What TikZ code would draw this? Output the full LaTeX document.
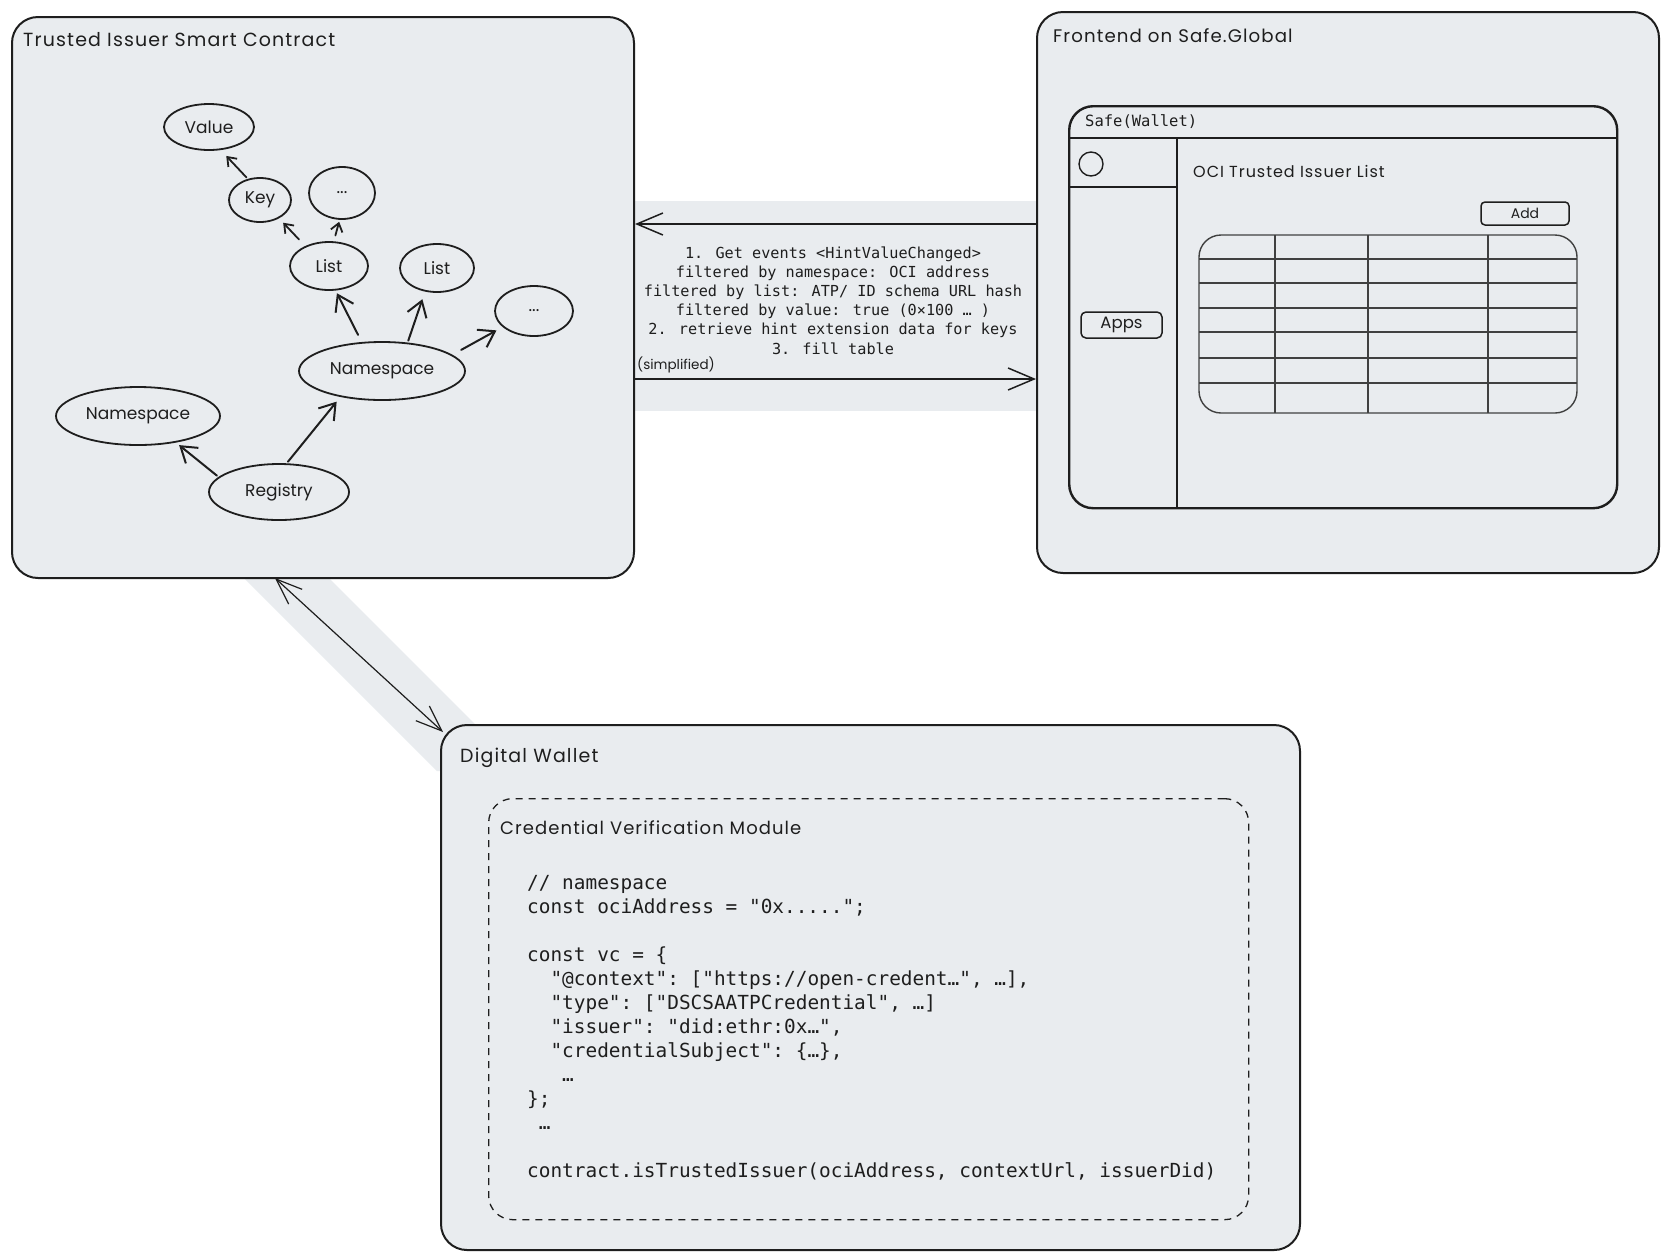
\documentclass[tikz,border=0pt]{standalone}
\usepackage{fontspec}
\setmainfont{Poppins}
\newfontfamily\handfont{Poppins}[LetterSpace=6]
\newfontfamily\codefont{DejaVu Sans Mono}
\usetikzlibrary{shapes.geometric,arrows.meta}
\definecolor{ink}{HTML}{1E1E1E}
\definecolor{boxfill}{HTML}{E9ECEF}
\begin{document}
\begin{tikzpicture}[x=1pt,y=-1pt,
  panel/.style={draw=ink, line width=2pt, fill=boxfill, rounded corners=26pt, inner sep=0pt, anchor=north west},
  hand/.style={text=ink, font=\handfont\fontsize{19}{22}\selectfont, inner sep=0pt, anchor=west},
  oval/.style={ellipse, draw=ink, line width=1.8pt, inner sep=0pt, text=ink, font=\fontsize{17}{20}\selectfont},
  sarr/.style={draw=ink, line width=1.8pt, line cap=round, -{Straight Barb[length=8pt,width=12pt]}},
  barr/.style={draw=ink, line width=2pt, line cap=round, -{Straight Barb[length=15pt,width=20pt]}},
  harr/.style={draw=ink, line width=1.5pt, -{Straight Barb[length=26pt,width=22pt]}},
  tline/.style={draw=ink!85, line width=1.4pt},
  wline/.style={draw=ink, line width=2.4pt}
]
\useasboundingbox (0,0) rectangle (1669,1259);
\fill[white] (0,0) rectangle (1669,1259);

% background bands
\fill[boxfill] (633,201) rectangle (1036,411);
\fill[boxfill] (242,576) -- (327,576) -- (522,771) -- (437,771) -- cycle;

% panels
\node[panel, minimum width=622pt, minimum height=561pt] (tic) at (11,16) {};
\node[panel, minimum width=622pt, minimum height=561pt] (fe) at (1036,11) {};
\node[panel, minimum width=859pt, minimum height=525pt] (dw) at (440,724) {};

% titles
\node[hand] (tictitle) at (23,40) {Trusted Issuer Smart Contract};
\node[hand, font=\handfont\fontsize{18.2}{22}\selectfont] (fetitle) at (1053,36) {Frontend on Safe.Global};
\node[hand] (dwtitle) at (460,758) {Digital Wallet};

% ---- graph in trusted issuer box
\node[oval, minimum width=90pt, minimum height=46pt] (val) at (209,127) {Value};
\node[oval, minimum width=62pt, minimum height=44pt] (key) at (260,200) {Key};
\node[oval, minimum width=66pt, minimum height=52pt] (d1) at (342,193) {...};
\node[oval, minimum width=78pt, minimum height=48pt] (l1) at (329,266) {List};
\node[oval, minimum width=74pt, minimum height=48pt] (l2) at (437,268) {List};
\node[oval, minimum width=78pt, minimum height=50pt] (d2) at (534,311) {...};
\node[oval, minimum width=166pt, minimum height=58pt] (nsR) at (382,371) {Namespace};
\node[oval, minimum width=164pt, minimum height=58pt] (nsL) at (138,416) {Namespace};
\node[oval, minimum width=140pt, minimum height=56pt] (reg) at (279,492) {Registry};

\draw[barr, shorten <=2pt, shorten >=4pt] (reg.166) -- (nsL.-35);
\draw[barr, shorten <=2pt, shorten >=6pt] (reg.75) -- (nsR.212);
\draw[barr, shorten <=8pt, shorten >=3pt] (nsR.125) -- (l1.285);
\draw[barr, shorten <=2pt, shorten >=8pt] (nsR.48) -- (l2.243);
\draw[barr, shorten <=10pt, shorten >=7pt] (nsR.13) -- (d2.207);
\draw[sarr, shorten <=9pt, shorten >=6pt] (l1.140) -- (key.316);
\draw[sarr, shorten <=6pt, shorten >=2pt] (l1.79) -- (d1.265);
\draw[sarr, shorten <=2pt, shorten >=8pt] (key.120) -- (val.297);

% ---- connectors between panels
\draw[harr] (fe.west |- 0,224) -- (tic.east |- 0,224);
\draw[harr] (tic.east |- 0,379) -- (fe.west |- 0,379);
\node[text=ink, font=\codefont\fontsize{15.2}{19.2}\selectfont, align=center, anchor=base, inner sep=0pt] (steps) at (833,354)
 {1. Get events <HintValueChanged>\\
  filtered by namespace: OCI address\\
  filtered by list: ATP/ ID schema URL hash\\
  filtered by value: true (0×100 … )\\
  2. retrieve hint extension data for keys\\
  3. fill table};
\node[hand, font=\fontsize{13.5}{16}\selectfont] (simp) at (637,365) {(simplified)};

\coordinate (dA) at (275,578);
\coordinate (dB) at (443,732);
\draw[draw=ink, line width=1.2pt, {Straight Barb[length=26pt,width=20pt]}-{Straight Barb[length=26pt,width=20pt]}] (dA) -- (dB);

% ---- Safe window
\node[draw=ink, line width=2.4pt, rounded corners=24pt, inner sep=0pt, anchor=north west, minimum width=548pt, minimum height=402pt] (win) at (1068,105) {};
\draw[wline] (win.west |- 0,138) -- (1618,138);
\draw[wline] (1177,138) -- (1177,507);
\draw[wline] (win.west |- 0,187) -- (1177,187);
\node[text=ink, font=\codefont\fontsize{15.5}{18}\selectfont, anchor=west, inner sep=0pt] (safet) at (1085,122) {Safe(Wallet)};
\node[circle, draw=ink, line width=1.4pt, minimum size=24pt, inner sep=0pt] (avatar) at (1091,164) {};
\node[draw=ink, line width=1.5pt, rounded corners=5pt, minimum width=81pt, minimum height=26pt, inner sep=0pt, text=ink, font=\fontsize{16.5}{20}\selectfont] (apps) at (1121.5,325) {Apps};
\node[hand, font=\handfont\fontsize{16}{19}\selectfont] (ocit) at (1193,171) {OCI Trusted Issuer List};
\node[draw=ink, line width=1.5pt, rounded corners=4pt, minimum width=88pt, minimum height=23pt, inner sep=0pt, text=ink, font=\fontsize{14}{16}\selectfont] (add) at (1525,213.5) {Add};

% table
\draw[tline, rounded corners=22pt] (1199,235) rectangle (1577,413);
\foreach \cx in {1275,1368,1488} \draw[tline] (\cx,235) -- (\cx,413);
\foreach \ry in {259,283,308,332,358,383} \draw[tline] (1199,\ry) -- (1577,\ry);

% ---- digital wallet contents
\node[draw=ink, line width=1.3pt, dashed, dash pattern=on 7pt off 6pt, rounded corners=24pt, inner sep=0pt, anchor=north west, minimum width=760pt, minimum height=421pt] (cvm) at (488,798) {};
\node[hand, font=\handfont\fontsize{18}{22}\selectfont] (cvmtitle) at (500,828) {Credential Verification Module};
\node[text=ink, font=\codefont\fontsize{19.4}{24}\selectfont, align=left, anchor=base west, inner sep=0pt] (code) at (527,1177)
 {// namespace\\
  const~ociAddress~=~"0x.....";\\
  ~\\
  const~vc~=~\{\\
  ~~"@context":~["https://open-credent…",~…],\\
  ~~"type":~["DSCSAATPCredential",~…]\\
  ~~"issuer":~"did:ethr:0x…",\\
  ~~"credentialSubject":~\{…\},\\
  ~~~…\\
  \};\\
  ~…\\
  ~\\
  contract.isTrustedIssuer(ociAddress,~contextUrl,~issuerDid)};
\end{tikzpicture}
\end{document}
